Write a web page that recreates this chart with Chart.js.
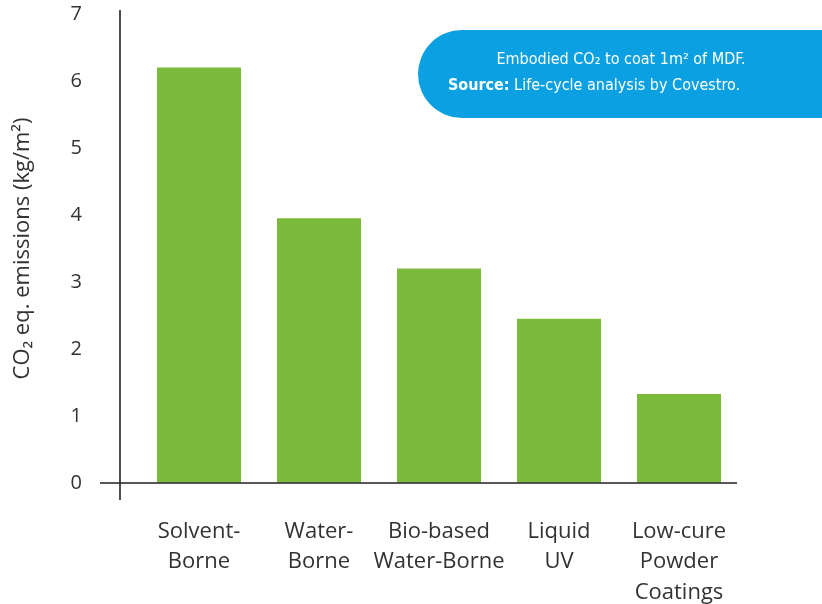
<!DOCTYPE html>
<html>
<head>
<meta charset="utf-8">
<script src="https://cdn.jsdelivr.net/npm/chart.js@4.4.1/dist/chart.umd.min.js"></script>
<style>
  html, body { margin: 0; padding: 0; background: #ffffff; }
  #wrap { width: 822px; height: 604px; position: relative; }
  #chart { display: block; width: 822px; height: 604px; }
</style>
</head>
<body>
<div id="wrap"><canvas id="chart"></canvas></div>
<script>
// Coating technologies and their embodied CO2 (kg CO2 eq. per m² of MDF)
const categories = [
  ["Solvent-", "Borne"],
  ["Water-", "Borne"],
  ["Bio-based", "Water-Borne"],
  ["Liquid", "UV"],
  ["Low-cure", "Powder", "Coatings"]
];
const emissions = [6.2, 3.95, 3.2, 2.45, 1.33];
const yTicks = [0, 1, 2, 3, 4, 5, 6, 7];

const noteLine1 = "Embodied CO₂ to coat 1m² of MDF.";
const noteLabel = "Source:";
const noteText = " Life-cycle analysis by Covestro.";

const GREEN = "#7cba3c";
const BLUE = "#0aa0e2";
const INK = "#333333";
const FONT = "'Open Sans', 'Noto Sans', sans-serif";

// Axis lines crossing at the origin, drawn from the scales
const axisLines = {
  id: "axisLines",
  afterDatasetsDraw(chart) {
    const { ctx, chartArea, scales } = chart;
    const y0 = scales.y.getPixelForValue(0);
    const yTop = scales.y.getPixelForValue(7);
    const xAxis = chartArea.left - 19;
    ctx.save();
    ctx.strokeStyle = "#222";
    ctx.lineWidth = 1.6;
    ctx.beginPath();
    ctx.moveTo(xAxis, yTop - 4);
    ctx.lineTo(xAxis, y0 + 17);
    ctx.moveTo(xAxis - 20, y0);
    ctx.lineTo(chartArea.right - 2, y0);
    ctx.stroke();
    ctx.restore();
  }
};

// Blue callout with the source note
const callout = {
  id: "callout",
  afterDraw(chart) {
    const { ctx } = chart;
    const x = 418, y = 30, w = 420, h = 88, r = 44;
    ctx.save();
    ctx.fillStyle = BLUE;
    ctx.beginPath();
    ctx.moveTo(x + r, y);
    ctx.lineTo(x + w, y);
    ctx.lineTo(x + w, y + h);
    ctx.lineTo(x + r, y + h);
    ctx.arcTo(x, y + h, x, y + h - r, r);
    ctx.lineTo(x, y + r);
    ctx.arcTo(x, y, x + r, y, r);
    ctx.closePath();
    ctx.fill();

    const fam = "'Liberation Sans Narrow', 'DejaVu Sans Condensed', 'Roboto', sans-serif";
    ctx.fillStyle = "#ffffff";
    ctx.textBaseline = "middle";
    ctx.font = "16px " + fam;
    ctx.textAlign = "center";
    ctx.fillText(noteLine1, 621, 60);

    ctx.textAlign = "left";
    ctx.font = "bold 16px " + fam;
    const wl = ctx.measureText(noteLabel).width;
    ctx.font = "16px " + fam;
    const wt = ctx.measureText(noteText).width;
    const sx = 594 - (wl + wt) / 2;
    ctx.font = "bold 16px " + fam;
    ctx.fillText(noteLabel, sx, 86);
    ctx.font = "16px " + fam;
    ctx.fillText(noteText, sx + wl, 86);
    ctx.restore();
  }
};

const PAD_LEFT = 4;

new Chart(document.getElementById("chart"), {
  type: "bar",
  data: {
    labels: categories,
    datasets: [{
      data: emissions,
      backgroundColor: GREEN,
      borderWidth: 0,
      barPercentage: 0.7,
      categoryPercentage: 1.0
    }]
  },
  options: {
    responsive: true,
    maintainAspectRatio: false,
    animation: false,
    devicePixelRatio: 1,
    layout: { padding: { top: 0, right: 83, left: PAD_LEFT, bottom: 0 } },
    plugins: {
      legend: { display: false },
      tooltip: { enabled: false }
    },
    scales: {
      x: {
        grid: { display: false, drawTicks: false },
        border: { display: false },
        ticks: {
          color: INK,
          font: { family: FONT, size: 22, lineHeight: 1.4 },
          padding: 33,
          maxRotation: 0,
          autoSkip: false
        },
        afterFit(scale) { scale.height = 121; }
      },
      y: {
        min: 0,
        max: 7,
        afterBuildTicks(scale) {
          scale.ticks = yTicks.map(v => ({ value: v }));
        },
        // invisible tick marks keep the labels well left of the bars
        grid: {
          display: true,
          drawOnChartArea: false,
          drawTicks: true,
          tickLength: 55,
          color: "rgba(0,0,0,0)"
        },
        border: { display: false },
        ticks: {
          color: INK,
          font: { family: FONT, size: 20 },
          padding: 2
        },
        title: {
          display: true,
          text: "CO₂ eq. emissions (kg/m²)",
          color: INK,
          font: { family: FONT, size: 22 },
          padding: { top: 6, bottom: 0 }
        },
        afterFit(scale) {
          scale.width = 139 - PAD_LEFT;
          scale.paddingTop = 14;
          scale.paddingBottom = 0;
        }
      }
    }
  },
  plugins: [axisLines, callout]
});
</script>
</body>
</html>
